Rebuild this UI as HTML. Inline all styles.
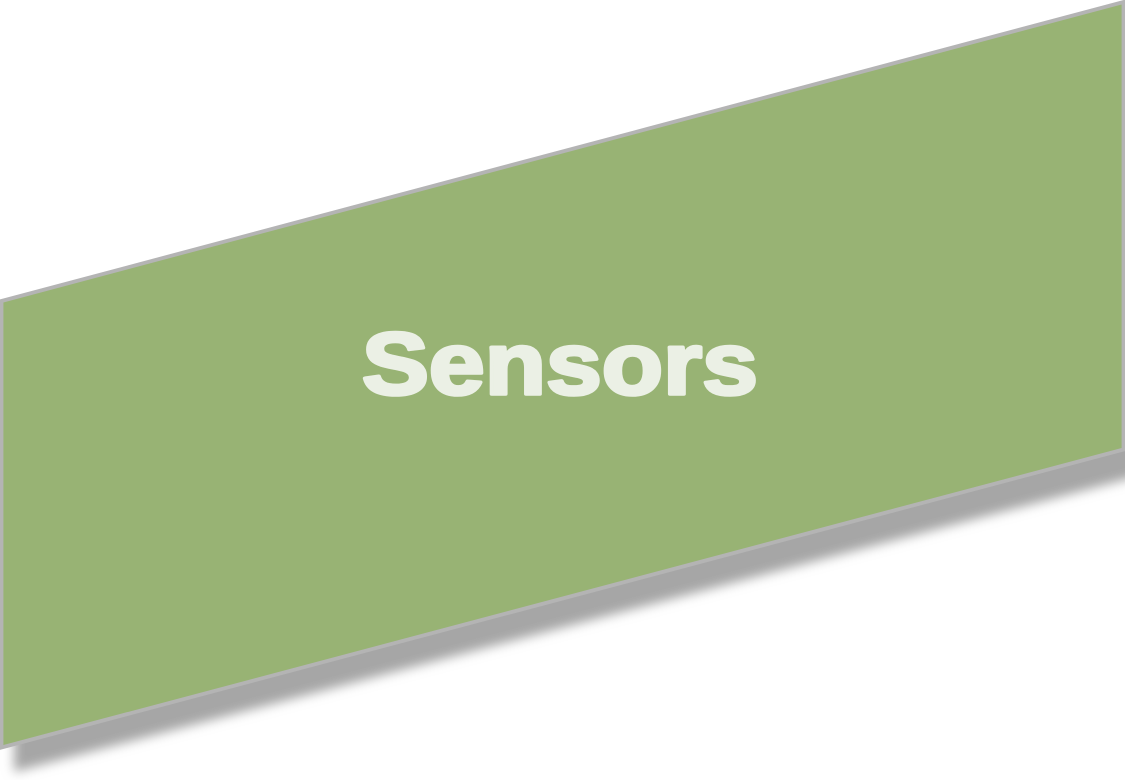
<!DOCTYPE html>
<html lang="en">
<head>
<meta charset="utf-8">
<title>Sensors</title>
<style>
html,body{margin:0;padding:0;background:#fff;width:1125px;height:780px;overflow:hidden}
svg{display:block}
</style>
</head>
<body>
<svg width="1125" height="780" viewBox="0 0 1125 780" xmlns="http://www.w3.org/2000/svg">
  <defs>
    <filter id="soft-shadow" x="-5%" y="-5%" width="110%" height="110%">
      <feGaussianBlur stdDeviation="5.5"/>
    </filter>
  </defs>
  <polygon points="14,322 1139,24 1139,476 14,772" fill="#a6a6a6" filter="url(#soft-shadow)"/>
  <polygon points="1.5,301 1123.5,2 1123.5,449.5 1.5,747.5" fill="#98b374" stroke="#b4b4b4" stroke-width="3.8"/>
  <text transform="translate(362,394) scale(1.14,1)" x="0" y="0" font-family="'Liberation Sans', sans-serif" font-weight="700" font-size="88" fill="#ebf0e5" stroke="#ebf0e5" stroke-width="3.6" stroke-linejoin="round">Sensors</text>
</svg>
</body>
</html>
